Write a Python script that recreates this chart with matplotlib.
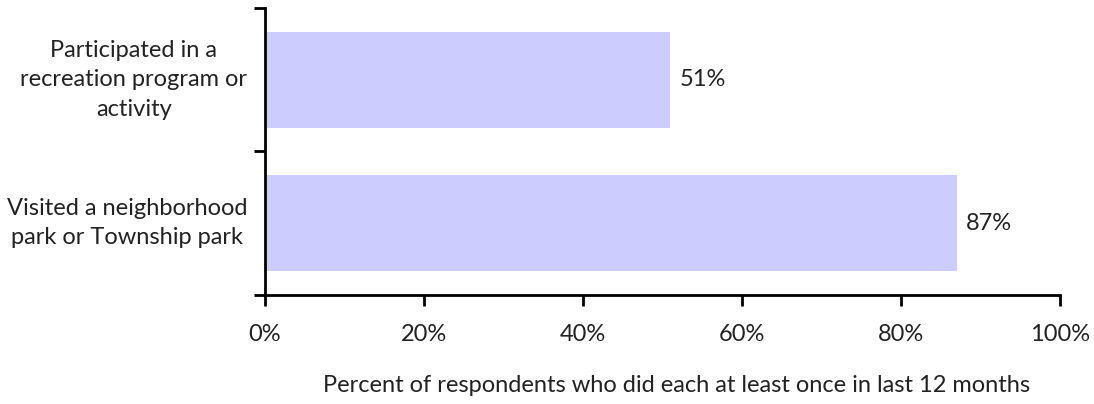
import matplotlib.pyplot as plt
from matplotlib.ticker import PercentFormatter

plt.rcParams['font.family'] = ['Lato', 'DejaVu Sans']

# Data
categories = ['Visited a neighborhood\npark or Township park',
              'Participated in a\nrecreation program or\nactivity']
values = [87, 51]
x_ticks = [0, 20, 40, 60, 80, 100]

fs = 17
fig = plt.figure(figsize=(10.94, 4.04), dpi=100)
ax = fig.add_axes([0.2422, 0.270, 0.7266, 0.710])

bars = ax.barh(range(len(categories)), values, height=0.67, color='#CCCCFF')

for i, v in enumerate(values):
    ax.text(v + 1.2, i, f'{v}%', va='center', ha='left', fontsize=fs, color='#222222')

ax.set_xlim(0, 100)
ax.set_ylim(-0.5, len(categories) - 0.5)
ax.set_xticks(x_ticks)
ax.xaxis.set_major_formatter(PercentFormatter(decimals=0))

# category labels sit between the tick marks (ticks on boundaries)
ax.set_yticks([-0.5, 0.5, 1.5])
ax.set_yticklabels([])
for i, c in enumerate(categories):
    ax.text(-0.022, i, c, ha='right', va='center', multialignment='center',
            fontsize=fs, color='#222222',
            transform=ax.get_yaxis_transform(), linespacing=1.5)

for s in ['top', 'right']:
    ax.spines[s].set_visible(False)
ax.spines['left'].set_linewidth(2)
ax.spines['bottom'].set_linewidth(2)
ax.tick_params(axis='x', length=8, width=2, labelsize=fs, pad=13, labelcolor='#222222')
ax.tick_params(axis='y', length=8, width=2)

fig.text(0.618, 0.047,
         'Percent of respondents who did each at least once in last 12 months',
         ha='center', va='center', fontsize=fs, color='#222222')

fig.savefig('out.png', dpi=100)
